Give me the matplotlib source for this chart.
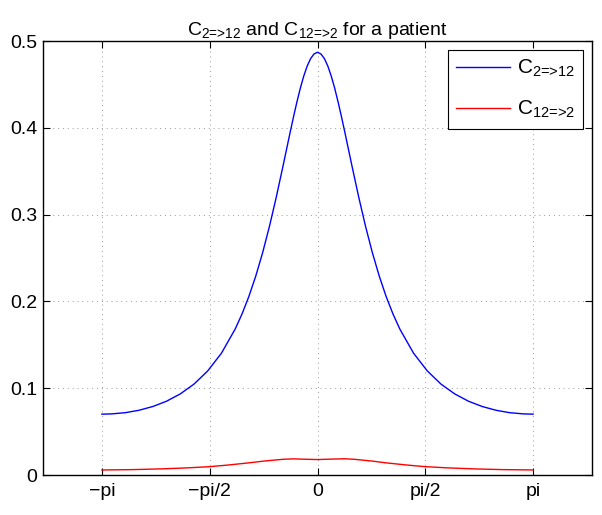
import numpy as np
import matplotlib
matplotlib.use("Agg")
import matplotlib.pyplot as plt

plt.rcParams['font.family'] = ['Liberation Sans', 'DejaVu Sans']
plt.rcParams['mathtext.fontset'] = 'custom'
plt.rcParams['mathtext.rm'] = 'Liberation Sans'
plt.rcParams['mathtext.it'] = 'Liberation Sans'
plt.rcParams['mathtext.default'] = 'regular'

# values
theta_c21 = [-3.1416, -3.0, -2.8, -2.6, -2.4, -2.2, -2.0, -1.8, -1.6, -1.4,
             -1.2, -1.1, -1.0, -0.9, -0.8, -0.7, -0.6, -0.5, -0.4, -0.35, -0.3,
             -0.25, -0.2, -0.15, -0.1, -0.05, 0.0,
             0.05, 0.1, 0.15, 0.2, 0.25, 0.3, 0.35, 0.4, 0.5, 0.6, 0.7, 0.8, 0.9, 1.0,
             1.1, 1.2, 1.4, 1.6, 1.8, 2.0, 2.2, 2.4, 2.6, 2.8,
             3.0, 3.1416]
c_2_12 = [0.0701, 0.0704, 0.0718, 0.0746, 0.0789, 0.0850, 0.0934, 0.1047, 0.1199, 0.1403,
          0.1681, 0.1855, 0.2057, 0.2291, 0.2560, 0.2865, 0.3204, 0.3569, 0.3943, 0.4125, 0.4298,
          0.4457, 0.4597, 0.4712, 0.4798, 0.4851, 0.4870,
          0.4851, 0.4798, 0.4712, 0.4597, 0.4457, 0.4298, 0.4125, 0.3943, 0.3569, 0.3204,
          0.2865, 0.2560, 0.2291, 0.2057,
          0.1855, 0.1681, 0.1403, 0.1199, 0.1047, 0.0934, 0.0850, 0.0789, 0.0746, 0.0718,
          0.0704, 0.0701]

theta_c12 = [-3.1416, -2.7, -2.3, -1.9, -1.5708, -1.3, -1.0, -0.75, -0.5, -0.35,
             -0.2, 0.0, 0.2, 0.4, 0.55, 0.8, 1.0, 1.3, 1.5708, 1.9, 2.3, 2.7, 3.1416]
c_12_2 = [0.0058, 0.0062, 0.0070, 0.0082, 0.0096, 0.0115, 0.0140, 0.0163, 0.0181, 0.0186,
          0.0182, 0.0178, 0.0183, 0.0187, 0.0180, 0.0160, 0.0140, 0.0115, 0.0096, 0.0082,
          0.0070, 0.0062, 0.0058]

xtick_pos = [-np.pi, -np.pi/2, 0, np.pi/2, np.pi]
xtick_labels = ['\u2212pi', '\u2212pi/2', '0', 'pi/2', 'pi']
ytick_pos = [0, 0.1, 0.2, 0.3, 0.4, 0.5]
ytick_labels = ['0', '0.1', '0.2', '0.3', '0.4', '0.5']

lab1 = r'C$_{\text{2=>12}}$'
lab2 = r'C$_{\text{12=>2}}$'

fig = plt.figure(figsize=(6.02, 5.15), dpi=100)
ax = fig.add_axes([43/602, 40/515, 549/602, 434/515])

ax.plot(theta_c21, c_2_12, color=(0, 0, 1), lw=1.0, label=lab1)
ax.plot(theta_c12, c_12_2, color=(1, 0, 0), lw=1.0, label=lab2)

ax.set_xlim(-4, 4)
ax.set_ylim(0, 0.5)
ax.set_xticks(xtick_pos)
ax.set_xticklabels(xtick_labels)
ax.set_yticks(ytick_pos)
ax.set_yticklabels(ytick_labels)
ax.tick_params(direction='in', length=5, width=0.8, labelsize=14,
               top=True, right=True, pad=6)
ax.tick_params(axis='y', pad=4)
for s in ax.spines.values():
    s.set_linewidth(1.0)
ax.grid(True, linestyle=(0, (1, 4)), color='#999999', linewidth=0.7)

ax.set_title(lab1 + ' and ' + lab2 + ' for a patient', fontsize=14, pad=4)

leg = ax.legend(loc='upper right', bbox_to_anchor=(0.9836, 0.980),
                borderaxespad=0, fontsize=15, fancybox=False, framealpha=1,
                edgecolor='black', handlelength=2.6, labelspacing=0.95,
                borderpad=0.4, handletextpad=0.3)
leg.get_frame().set_linewidth(0.8)

fig.savefig('out.png', dpi=100)
